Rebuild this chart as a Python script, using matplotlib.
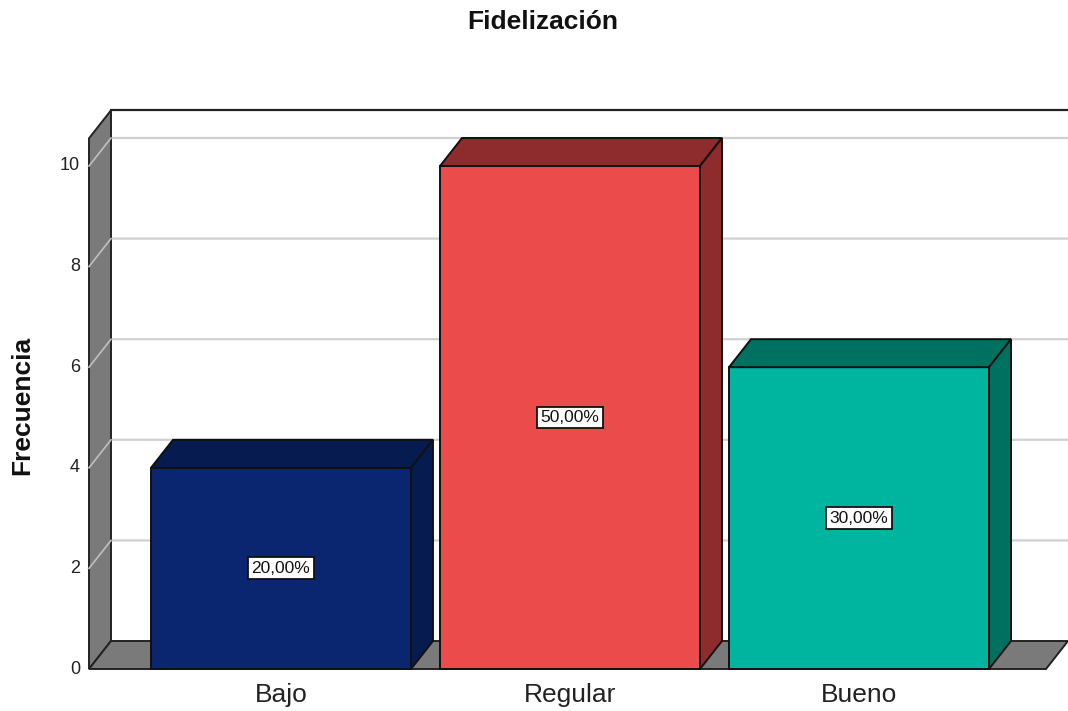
import matplotlib.pyplot as plt
from matplotlib.patches import Polygon

plt.rcParams['font.family'] = ['Liberation Sans', 'DejaVu Sans']

categorias = ['Bajo', 'Regular', 'Bueno']
frecuencia = [4, 10, 6]
porcentaje = [20.0, 50.0, 30.0]
yticks = [0, 2, 4, 6, 8, 10]

frente = ['#0b2670', '#ec4b4b', '#00b5a0']
lado = ['#061b50', '#8e2b2d', '#007060']

# pixel mapping: x index 0 at 281 px, 289 px per category; y=0 at 669 px, 50.3 px per unit
W, H = 1068, 711
x0, sx = 281, 289
y0, sy = 669, 50.3
dx, dy = 22 / sx, 28 / sy          # depth offset in data units
width = 260 / sx
xl, xr = (89 - x0) / sx, (1046 - x0) / sx
ytop = 10.55

fig = plt.figure(figsize=(W / 100, H / 100), dpi=100)
ax = fig.add_axes([0, 0, 1, 1])
ax.set_xlim(-x0 / sx, (W - x0) / sx)
ax.set_ylim((y0 - H) / sy, y0 / sy)
ax.axis('off')

gris = '#7a7a7a'
# back wall
ax.add_patch(Polygon([(xl + dx, dy), (xr + dx, dy), (xr + dx, ytop + dy), (xl + dx, ytop + dy)],
                     closed=True, facecolor='white', edgecolor='none', zorder=1))
for t in yticks[1:]:
    ax.plot([xl, xl + dx, xr + dx], [t, t + dy, t + dy], color='#d0d0d0', lw=1.6, zorder=2)
ax.plot([xl + dx, xr + dx + 0.2], [ytop + dy, ytop + dy], color='#222222', lw=1.6, zorder=3)
# left wall
ax.add_patch(Polygon([(xl, 0), (xl + dx, dy), (xl + dx, ytop + dy), (xl, ytop)],
                     closed=True, facecolor=gris, edgecolor='#222222', lw=1.4, zorder=2.5))
for t in yticks[1:]:
    ax.plot([xl, xl + dx], [t, t + dy], color='#c0c0c0', lw=1.2, zorder=2.6)
# floor
ax.add_patch(Polygon([(xl, 0), (xr, 0), (xr + dx, dy), (xl + dx, dy)],
                     closed=True, facecolor=gris, edgecolor='#222222', lw=1.4, zorder=3))

for i, (v, p) in enumerate(zip(frecuencia, porcentaje)):
    l, r = i - width / 2, i + width / 2
    ax.add_patch(Polygon([(l, 0), (r, 0), (r, v), (l, v)], closed=True,
                         facecolor=frente[i], edgecolor='#111111', lw=1.4, zorder=5))
    ax.add_patch(Polygon([(l, v), (l + dx, v + dy), (r + dx, v + dy), (r, v)], closed=True,
                         facecolor=lado[i], edgecolor='#111111', lw=1.4, zorder=5))
    ax.add_patch(Polygon([(r, 0), (r + dx, dy), (r + dx, v + dy), (r, v)], closed=True,
                         facecolor=lado[i], edgecolor='#111111', lw=1.4, zorder=5))
    ax.text(i, v / 2, f'{p:.2f}%'.replace('.', ','), ha='center', va='center',
            fontsize=12.5, zorder=6, color='#111111',
            bbox=dict(boxstyle='square,pad=0.2', facecolor='white', edgecolor='#111111', lw=1.3))
    ax.text(i, (y0 - 695) / sy, categorias[i], ha='center', va='center', fontsize=19, color='#222222')

for t in yticks:
    ax.text((80 - x0) / sx, t, str(t), ha='right', va='center', fontsize=13, color='#222222')

ax.text((543 - x0) / sx, (y0 - 22) / sy, 'Fidelización', ha='center', va='center',
        fontsize=19, fontweight='bold', color='#111111')
ax.text((22 - x0) / sx, (y0 - 405) / sy, 'Frecuencia', ha='center', va='center',
        fontsize=19, fontweight='bold', rotation=90, color='#111111')

fig.savefig('out.png', dpi=100)
